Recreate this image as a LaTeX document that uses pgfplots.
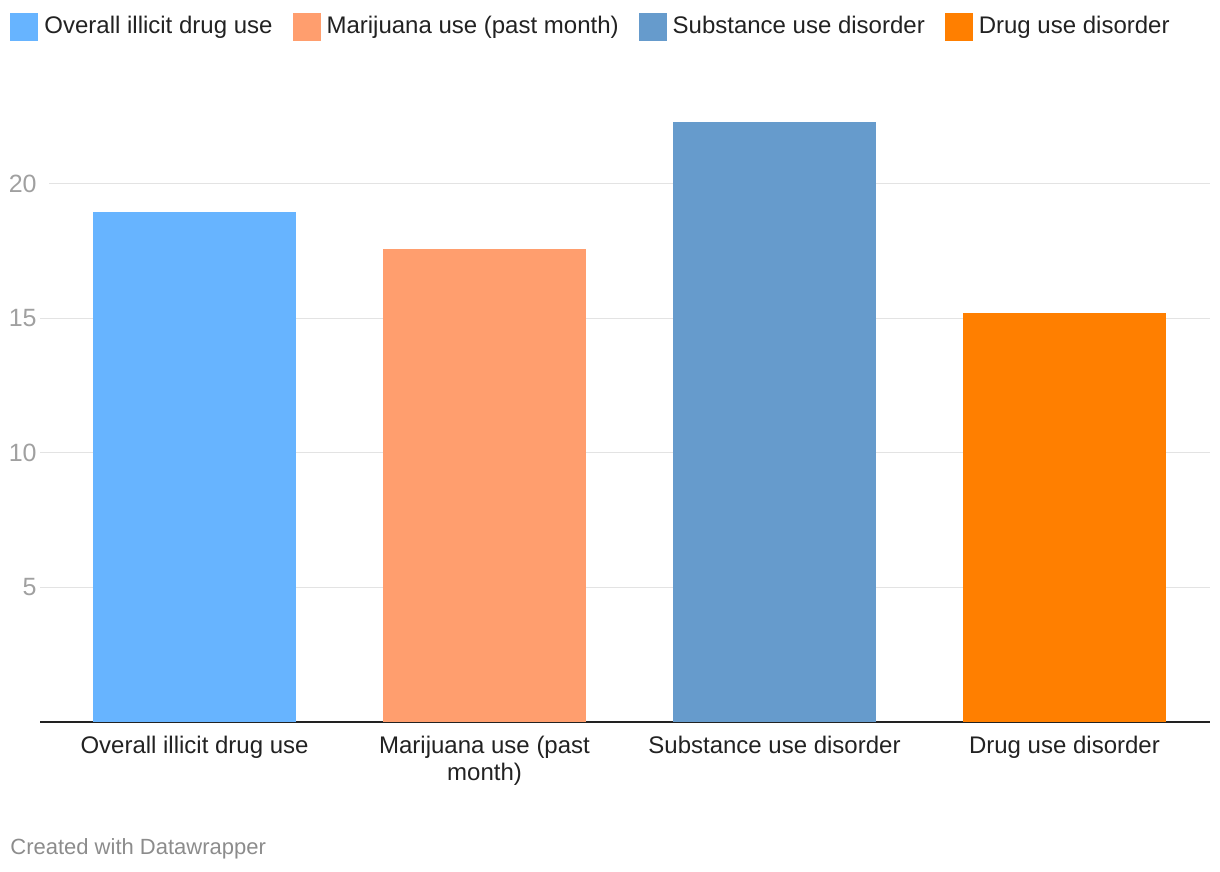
\documentclass[border=0pt]{standalone}
\usepackage{fontspec}
\setmainfont{Liberation Sans}
\usepackage{pgfplots}
\pgfplotsset{compat=1.18}

\definecolor{cOverall}{HTML}{67B4FF}
\definecolor{cMarij}{HTML}{FF9E6E}
\definecolor{cSubst}{HTML}{669BCC}
\definecolor{cDrug}{HTML}{FF7F00}
\definecolor{txt}{HTML}{222222}
\definecolor{tick}{HTML}{A0A0A0}
\definecolor{gridc}{HTML}{E3E3E3}
\definecolor{credit}{HTML}{8C8C8C}

\begin{document}
\begin{tikzpicture}
% 1 px of the reference = 0.5pt
\useasboundingbox (0,0) rectangle (610pt,436pt);
\begin{axis}[
    at={(20pt,75pt)}, anchor=south west,
    scale only axis,
    width=585pt, height=309.35pt,
    ybar, bar width=101.5pt,
    xmin=-0.533, xmax=3.502,
    ymin=0, ymax=23,
    xtick={0,1,2,3},
    xticklabels={Overall illicit drug use,{Marijuana use (past\\month)},Substance use disorder,Drug use disorder},
    ytick={5,10,15,20},
    major tick length=0pt,
    axis y line*=left,
    y axis line style={draw=none},
    axis x line*=bottom,
    x axis line style={-, line width=1pt, color=txt},
    ymajorgrids,
    grid style={line width=0.5pt, color=gridc, shorten <=4.5pt},
    /pgf/number format/assume math mode=true,
    xticklabel style={font=\fontsize{12}{13.5}\selectfont, text=txt, align=center, anchor=north, inner sep=0pt, yshift=-7pt},
    yticklabel style={font=\fontsize{12.5}{14}\selectfont, text=tick, anchor=east, inner sep=0pt, xshift=-1.5pt},
    legend columns=4,
    legend style={draw=none, fill=none, at={(-0.0256,1.1476)}, anchor=north west,
        font=\fontsize{12}{14}\selectfont, text=txt, inner sep=0pt,
        /tikz/every odd column/.append style={column sep=1pt},
        /tikz/every even column/.append style={column sep=8pt}},
    legend image code/.code={\fill[#1] (0pt,-7pt) rectangle (14pt,7pt);},
    legend cell align=left,
]
\addplot[fill=cOverall, draw=none, bar shift=0pt] coordinates {(0,18.95)};
\addlegendentry{Overall illicit drug use}
\addplot[fill=cMarij, draw=none, bar shift=0pt] coordinates {(1,17.6)};
\addlegendentry{Marijuana use (past month)}
\addplot[fill=cSubst, draw=none, bar shift=0pt] coordinates {(2,22.3)};
\addlegendentry{Substance use disorder}
\addplot[fill=cDrug, draw=none, bar shift=0pt] coordinates {(3,15.2)};
\addlegendentry{Drug use disorder}
\end{axis}
\node[anchor=base west, inner sep=0pt, text=credit, font=\fontsize{11}{13}\selectfont] at (5pt,9pt) {Created with Datawrapper};
\end{tikzpicture}
\end{document}
